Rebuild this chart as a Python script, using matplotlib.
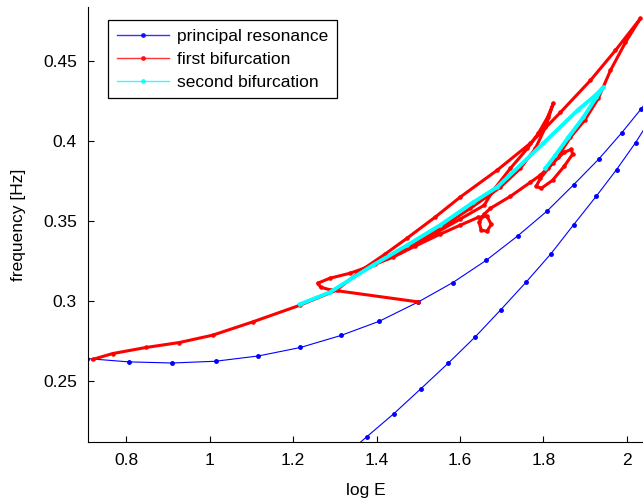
import numpy as np
import matplotlib.pyplot as plt
from matplotlib.lines import Line2D

plt.rcParams['font.family'] = ['Liberation Sans', 'DejaVu Sans']

# principal resonance branch (upper) and its second branch (lower)
logE_main = [0.705, 0.8055, 0.9099, 1.0139, 1.1166, 1.2175, 1.3144, 1.4065, 1.5002,
             1.5829, 1.6630, 1.7382, 1.8089, 1.8728, 1.9329, 1.9875, 2.0349, 2.076]
freq_main = [0.2642, 0.2621, 0.2614, 0.2625, 0.2658, 0.2711, 0.2786, 0.2875, 0.2996,
             0.3117, 0.3256, 0.3408, 0.3564, 0.3729, 0.3889, 0.4052, 0.4204, 0.435]

logE_low = [1.311, 1.3762, 1.4418, 1.5067, 1.5724, 1.6365, 1.6983, 1.7591, 1.8185,
            1.8728, 1.9267, 1.9755, 2.0212, 2.062]
freq_low = [0.2006, 0.2152, 0.2298, 0.2454, 0.2614, 0.2777, 0.2948, 0.3121, 0.3298,
            0.3479, 0.3656, 0.3823, 0.3992, 0.416]

# first bifurcation, traced from (0.72, 0.264) round the folds back to (1.5, 0.30)
logE_b1 = [0.719, 0.767, 0.847, 0.927, 1.007, 1.103, 1.216, 1.304, 1.367,
           1.420, 1.473, 1.540, 1.600, 1.689, 1.769, 1.841, 1.913, 1.973, 2.033,
           1.997, 1.961, 1.932, 1.899, 1.865, 1.834,
           1.812, 1.793, 1.783, 1.795, 1.822, 1.850, 1.870, 1.867, 1.850, 1.822, 1.793,
           1.769, 1.721, 1.673,
           1.658, 1.646, 1.651, 1.665, 1.675, 1.665, 1.644,
           1.600, 1.552, 1.492, 1.439, 1.396,
           1.456, 1.552, 1.625, 1.697, 1.745, 1.781, 1.805, 1.824,
           1.810, 1.788, 1.762, 1.721, 1.680, 1.658,
           1.600, 1.528, 1.456, 1.384, 1.336, 1.288, 1.259, 1.266, 1.288, 1.500]
freq_b1 = [0.2636, 0.2673, 0.2711, 0.2742, 0.2788, 0.2871, 0.2975, 0.3069, 0.3200,
           0.3294, 0.3394, 0.3525, 0.3650, 0.3819, 0.3988, 0.4181, 0.4381, 0.4569, 0.4769,
           0.4619, 0.4444, 0.4269, 0.4131, 0.4025, 0.3900,
           0.3831, 0.3769, 0.3719, 0.3706, 0.3756, 0.3844, 0.3919, 0.3950, 0.3931, 0.3863, 0.3788,
           0.3744, 0.3656, 0.3581,
           0.3544, 0.3494, 0.3444, 0.3438, 0.3481, 0.3531, 0.3525,
           0.3475, 0.3419, 0.3344, 0.3275, 0.3231,
           0.3319, 0.3456, 0.3581, 0.3713, 0.3831, 0.3956, 0.4088, 0.4238,
           0.4150, 0.4050, 0.3956, 0.3831, 0.3694, 0.3600,
           0.3513, 0.3406, 0.3306, 0.3219, 0.3175, 0.3144, 0.3113, 0.3088, 0.3072, 0.2996]

# second bifurcation
logE_b2 = [1.216, 1.288, 1.391, 1.473, 1.552, 1.632, 1.689, 1.800, 1.882, 1.925, 1.944,
           1.927, 1.896, 1.860, 1.829, 1.805]
freq_b2 = [0.2981, 0.3056, 0.3225, 0.3350, 0.3475, 0.3619, 0.3713, 0.3988, 0.4194, 0.4288, 0.4338,
           0.4275, 0.4150, 0.4025, 0.3913, 0.3831]

fig = plt.figure(figsize=(6.43, 5.0), dpi=100)
ax = fig.add_axes([88/643, 58/500, 555/643, 435/500])

ax.plot(logE_main, freq_main, '.-', color='#0000ff', lw=0.8, ms=5)
ax.plot(logE_low, freq_low, '.-', color='#0000ff', lw=0.8, ms=5)
ax.plot(logE_b1, freq_b1, '.-', color='#ff0000', lw=2.2, ms=4.5, solid_joinstyle='round')
ax.plot(logE_b2, freq_b2, '.-', color='#00ffff', lw=2.8, ms=4.5, solid_joinstyle='round')

ax.set_xlim(0.708, 2.039)
ax.set_ylim(0.212, 0.484)
ax.set_xticks([0.8, 1, 1.2, 1.4, 1.6, 1.8, 2])
ax.set_xticklabels(['0.8', '1', '1.2', '1.4', '1.6', '1.8', '2'])
ax.set_yticks([0.25, 0.3, 0.35, 0.4, 0.45])
ax.set_yticklabels(['0.25', '0.3', '0.35', '0.4', '0.45'])
ax.tick_params(direction='in', length=4, width=0.8, labelsize=12.5, pad=8)
ax.spines['top'].set_visible(False)
ax.spines['right'].set_visible(False)
ax.set_xlabel('log E', fontsize=12.5, labelpad=11)
ax.set_ylabel('frequency [Hz]', fontsize=12.5, labelpad=12)

handles = [Line2D([], [], color='#0000ff', lw=1, marker='.', ms=5, alpha=0.8),
           Line2D([], [], color='#ff0000', lw=1, marker='.', ms=5, alpha=0.8),
           Line2D([], [], color='#00ffff', lw=1, marker='.', ms=5, alpha=0.8)]
leg = ax.legend(handles, ['principal resonance', 'first bifurcation', 'second bifurcation'],
                loc='upper left', bbox_to_anchor=(0.036, 0.970), borderaxespad=0,
                fontsize=12.5, numpoints=1, handlelength=3.0, handletextpad=0.5,
                labelspacing=0.45, fancybox=False, framealpha=1, edgecolor='black',
                borderpad=0.5)
leg.get_frame().set_linewidth(0.9)

fig.savefig('out.png', dpi=100)
